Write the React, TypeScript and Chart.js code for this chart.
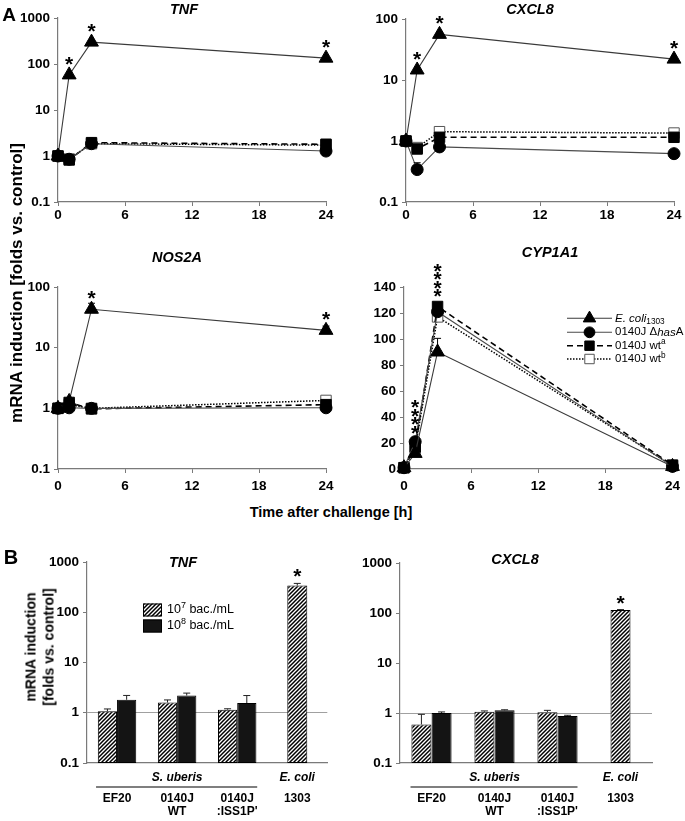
import React, { useEffect, useRef } from 'react';
import { Chart, registerables } from 'chart.js';

Chart.register(...registerables);

const FONT = '"Liberation Sans", Arial, Helvetica, sans-serif';

// ---------------- data ----------------
const hours = [0, 1, 3, 24];
const timeTicks = [0, 6, 12, 18, 24];
const logTicks4 = [0.1, 1, 10, 100, 1000];
const logTicks3 = [0.1, 1, 10, 100];
const cypTicks = [0, 20, 40, 60, 80, 100, 120, 140];

const seriesNames = ['E. coli 1303', '0140J ΔhasA', '0140J wt a', '0140J wt b'];

const tnfEcoli = [1, 58, 299, 134];
const tnfHasA = [1, 0.85, 1.85, 1.28];
const tnfWtA = [1, 0.82, 1.95, 1.8];
const tnfWtB = [1, 0.86, 1.85, 1.72];
const tnfStars = [0, 1, 1, 1];

const cxclEcoli = [1, 14.6, 56, 22];
const cxclHasA = [1, 0.34, 0.8, 0.62];
const cxclHasAErr = [0, 0.1, 0, 0];
const cxclWtA = [1, 0.74, 1.15, 1.15];
const cxclWtB = [1, 0.78, 1.42, 1.35];
const cxclStars = [0, 1, 1, 1];

const nosEcoli = [1, 1.3, 43, 19.3];
const nosEcoliErr = [0, 0, 11, 3.4];
const nosHasA = [1, 1.02, 1.0, 1.02];
const nosWtA = [1, 1.25, 0.98, 1.15];
const nosWtB = [1, 1.15, 1.0, 1.35];
const nosStars = [0, 0, 1, 1];

const cypEcoli = [1, 12, 90, 2];
const cypEcoliErr = [0, 0, 10.5, 0];
const cypHasA = [1, 21, 121, 2];
const cypWtA = [1, 17, 125, 3];
const cypWtB = [1, 16, 117, 2.5];
const cypStars = [0, 4, 4, 0];

const strainLabels = [['EF20'], ['0140J', 'WT'], ['0140J', ":ISS1P'"], ['1303']];
const speciesGroups = [
  { name: 'S. uberis', first: 0, last: 2 },
  { name: 'E. coli', first: 3, last: 3 },
];
const tnfDose7 = [1.07, 1.6, 1.15, 340];
const tnfDose7Err = [0.12, 0.2, 0.05, 35];
const tnfDose8 = [1.81, 2.2, 1.56, null];
const tnfDose8Err = [0.4, 0.26, 0.64, 0];
const cxclDose7 = [0.59, 1.06, 1.04, 115];
const cxclDose7Err = [0.35, 0.04, 0.09, 2];
const cxclDose8 = [1.0, 1.13, 0.87, null];
const cxclDose8Err = [0.05, 0.03, 0.03, 0];
const barStars = [0, 0, 0, 1];

const legendLabels = [
  [{ t: 'E. coli', i: true }, { t: '1303', sub: true }],
  [{ t: '0140J Δ' }, { t: 'has', i: true }, { t: 'A' }],
  [{ t: '0140J wt' }, { t: 'a', sup: true }],
  [{ t: '0140J wt' }, { t: 'b', sup: true }],
];
const doseLabels = [
  [{ t: '10' }, { t: '7', sup: true }, { t: ' bac./mL' }],
  [{ t: '10' }, { t: '8', sup: true }, { t: ' bac./mL' }],
];

// ---------------- styles ----------------
const lineStyles = [
  { pointStyle: 'triangle', radius: 8, fill: '#000', stroke: '#000', line: '#3a3a3a', width: 1.1, dash: [] as number[] },
  { pointStyle: 'circle', radius: 6, fill: '#000', stroke: '#000', line: '#4a4a4a', width: 1.1, dash: [] as number[] },
  { pointStyle: 'rect', radius: 7.4, fill: '#000', stroke: '#000', line: '#000', width: 1.6, dash: [6, 4] },
  { pointStyle: 'rect', radius: 7.4, fill: '#fff', stroke: '#555', line: '#000', width: 1.5, dash: [1.5, 1.5] },
];

const AXIS = '#7a7a7a';

function drawRich(ctx: any, x: number, y: number, segs: any[], size: number, bold = false) {
  let cx = x;
  ctx.textAlign = 'left';
  ctx.textBaseline = 'middle';
  for (const s of segs) {
    const fs = s.sub || s.sup ? size * 0.72 : size;
    ctx.font = `${s.i ? 'italic ' : ''}${bold ? 'bold ' : ''}${fs}px ${FONT}`;
    const dy = s.sub ? size * 0.3 : s.sup ? -size * 0.32 : 0;
    ctx.fillText(s.t, cx, y + dy);
    cx += ctx.measureText(s.t).width;
  }
}

function drawMarker(ctx: any, style: string, x: number, y: number, r: number, fill: string, stroke: string) {
  ctx.save();
  ctx.setLineDash([]);
  ctx.fillStyle = fill;
  ctx.strokeStyle = stroke;
  ctx.lineWidth = 1;
  ctx.beginPath();
  if (style === 'triangle') {
    ctx.moveTo(x, y - r);
    ctx.lineTo(x + r * 0.866, y + r / 2);
    ctx.lineTo(x - r * 0.866, y + r / 2);
    ctx.closePath();
  } else if (style === 'circle') {
    ctx.arc(x, y, r, 0, Math.PI * 2);
  } else {
    const s = r * Math.SQRT1_2;
    ctx.rect(x - s, y - s, 2 * s, 2 * s);
  }
  ctx.fill();
  ctx.stroke();
  ctx.restore();
}

function drawStar(ctx: any, x: number, cy: number) {
  ctx.save();
  ctx.font = `bold 21px ${FONT}`;
  ctx.textAlign = 'center';
  ctx.textBaseline = 'alphabetic';
  ctx.fillStyle = '#000';
  ctx.fillText('*', x, cy + 12);
  ctx.restore();
}

function makeHatch(ctx: any) {
  const c = document.createElement('canvas');
  c.width = 4;
  c.height = 4;
  const g = c.getContext('2d')!;
  g.fillStyle = '#fff';
  g.fillRect(0, 0, 4, 4);
  g.strokeStyle = '#000';
  g.lineWidth = 1.5;
  g.beginPath();
  g.moveTo(0, 4); g.lineTo(4, 0);
  g.moveTo(-2, 2); g.lineTo(2, -2);
  g.moveTo(2, 6); g.lineTo(6, 2);
  g.stroke();
  return ctx.createPattern(c, 'repeat');
}

function valueOf(raw: any) {
  if (raw === null || raw === undefined) return null;
  return typeof raw === 'number' ? raw : raw.y;
}

function drawErrors(chart: any, color: string, half: number) {
  const ctx = chart.ctx;
  const ys = chart.scales.y;
  chart.data.datasets.forEach((ds: any, di: number) => {
    const errs = ds.errors;
    if (!errs) return;
    const meta = chart.getDatasetMeta(di);
    meta.data.forEach((el: any, i: number) => {
      const e = errs[i];
      const v = valueOf(ds.data[i]);
      if (!e || v === null) return;
      const yTop = ys.getPixelForValue(v + e);
      ctx.save();
      ctx.setLineDash([]);
      ctx.strokeStyle = color;
      ctx.lineWidth = 1;
      ctx.beginPath();
      ctx.moveTo(el.x, el.y);
      ctx.lineTo(el.x, yTop);
      ctx.moveTo(el.x - half, yTop);
      ctx.lineTo(el.x + half, yTop);
      ctx.stroke();
      ctx.restore();
    });
  });
}

function axisCommon(tickSize: number, pad: number, tickLen: number) {
  return {
    ticks: { font: { family: FONT, size: tickSize, weight: 'bold' }, color: '#000', padding: pad, maxRotation: 0, autoSkip: false },
    grid: { drawOnChartArea: false, drawTicks: tickLen > 0, tickLength: tickLen, color: AXIS, tickColor: AXIS },
    border: { display: true, color: AXIS, width: 1.2 },
  };
}

// ---------------- line panels ----------------
function lineChart(o: any) {
  const { area, width, height } = o;
  const datasets = o.series.map((vals: number[], k: number) => {
    const s = lineStyles[k];
    return {
      label: seriesNames[k],
      data: hours.map((h, i) => ({ x: h, y: vals[i] })),
      errors: o.errors[k],
      borderColor: s.line,
      borderWidth: s.width,
      borderDash: s.dash,
      pointStyle: s.pointStyle,
      pointRadius: s.radius,
      pointBackgroundColor: s.fill,
      pointBorderColor: s.stroke,
      pointBorderWidth: 1,
      tension: 0,
      fill: false,
      clip: false,
    };
  });
  const xc = axisCommon(13.5, o.labelPad, 4);
  const yc = axisCommon(13.5, 4, 4);
  const yTicks = o.yTicks;
  return {
    type: 'line',
    data: { datasets },
    options: {
      animation: false,
      responsive: false,
      devicePixelRatio: 1,
      layout: { padding: { left: 0, top: area.t, right: width - area.r, bottom: 0 }, autoPadding: false },
      plugins: { legend: { display: false }, tooltip: { enabled: false }, title: { display: false } },
      scales: {
        x: {
          type: 'linear', min: 0, max: 24, ...xc,
          afterBuildTicks: (s: any) => { s.ticks = timeTicks.map((v) => ({ value: v })); },
          afterFit: (s: any) => { s.height = height - area.b; },
        },
        y: {
          type: o.yType, min: o.yMin, max: o.yMax, ...yc,
          ticks: { ...yc.ticks, callback: (v: any) => String(v) },
          afterBuildTicks: (s: any) => { s.ticks = yTicks.map((v: number) => ({ value: v })); },
          afterFit: (s: any) => { s.width = area.l; },
        },
      },
    },
    plugins: [
      {
        id: 'lineDecor',
        afterDatasetsDraw(chart: any) {
          const ctx = chart.ctx;
          drawErrors(chart, '#000', 3.5);
          const xs = chart.scales.x;
          const ys = chart.scales.y;
          // significance stars
          o.stars.forEach((n: number, i: number) => {
            if (!n) return;
            const x = xs.getPixelForValue(hours[i]);
            let top = Infinity;
            chart.data.datasets.forEach((ds: any, di: number) => {
              const el = chart.getDatasetMeta(di).data[i];
              top = Math.min(top, el.y - lineStyles[di].radius);
              const e = ds.errors ? ds.errors[i] : 0;
              if (e) top = Math.min(top, ys.getPixelForValue(ds.data[i].y + e) - 2);
            });
            const base = top - 8;
            for (let k = 0; k < n; k++) drawStar(ctx, x, base - k * 8.5);
          });
          // title
          ctx.save();
          ctx.font = `italic bold 14.5px ${FONT}`;
          ctx.textAlign = 'center';
          ctx.textBaseline = 'middle';
          ctx.fillStyle = '#000';
          ctx.fillText(o.title, o.titlePos[0], o.titlePos[1]);
          ctx.restore();
          // legend
          if (o.legend) {
            const L = o.legend;
            legendLabels.forEach((segs, k) => {
              const s = lineStyles[k];
              const y = L.rows[k];
              ctx.save();
              ctx.strokeStyle = s.line;
              ctx.lineWidth = s.width;
              ctx.setLineDash(s.dash);
              ctx.beginPath();
              ctx.moveTo(L.x1, y);
              ctx.lineTo(L.x2, y);
              ctx.stroke();
              ctx.restore();
              drawMarker(ctx, s.pointStyle, (L.x1 + L.x2) / 2, y, s.radius * 0.9, s.fill, s.stroke);
              ctx.save();
              ctx.fillStyle = '#000';
              drawRich(ctx, L.tx, y, segs, 11.5);
              ctx.restore();
            });
          }
        },
      },
    ],
  };
}

// ---------------- bar panels ----------------
function barChart(canvas: HTMLCanvasElement, o: any) {
  const { area, width, height } = o;
  const hatch = makeHatch(canvas.getContext('2d'));
  const xc = axisCommon(12, 29, 0);
  const yc = axisCommon(13.5, 4, 4);
  return {
    type: 'bar',
    data: {
      labels: strainLabels,
      datasets: [
        { label: '10^7 bac./mL', data: o.d7, errors: o.e7, backgroundColor: hatch, borderColor: '#000', borderWidth: 1, borderSkipped: false },
        { label: '10^8 bac./mL', data: o.d8, errors: o.e8, backgroundColor: '#141414', borderColor: '#000', borderWidth: 1, borderSkipped: false },
      ],
    },
    options: {
      animation: false,
      responsive: false,
      devicePixelRatio: 1,
      datasets: { bar: { skipNull: true, maxBarThickness: 20, categoryPercentage: 0.64, barPercentage: 1 } },
      layout: { padding: { left: 0, top: area.t, right: width - area.r, bottom: 0 }, autoPadding: false },
      plugins: { legend: { display: false }, tooltip: { enabled: false }, title: { display: false } },
      scales: {
        x: {
          type: 'category', offset: true, ...xc,
          ticks: { ...xc.ticks, font: { family: FONT, size: 12, weight: 'bold', lineHeight: 1.1 } },
          grid: { display: true, drawOnChartArea: false, drawTicks: false, color: AXIS },
          afterFit: (s: any) => { s.height = height - area.b; },
        },
        y: {
          type: 'logarithmic', min: 0.1, max: 1000, ...yc,
          ticks: { ...yc.ticks, callback: (v: any) => String(v) },
          grid: {
            drawOnChartArea: true, drawTicks: true, tickLength: 4, tickColor: AXIS, lineWidth: 1,
            color: (c: any) => (c.tick && c.tick.value === 1 ? '#a0a0a0' : 'rgba(0,0,0,0)'),
          },
          afterBuildTicks: (s: any) => { s.ticks = logTicks4.map((v) => ({ value: v })); },
          afterFit: (s: any) => { s.width = area.l; },
        },
      },
    },
    plugins: [
      {
        id: 'barDecor',
        afterDraw(chart: any) {
          const ctx = chart.ctx;
          const xs = chart.scales.x;
          const ys = chart.scales.y;
          drawErrors(chart, '#222', 3.5);
          // stars over 10^7 bars
          const ds0 = chart.data.datasets[0];
          const meta0 = chart.getDatasetMeta(0);
          barStars.forEach((n, i) => {
            if (!n) return;
            const el = meta0.data[i];
            const cap = ys.getPixelForValue(ds0.data[i] + (ds0.errors[i] || 0));
            for (let k = 0; k < n; k++) drawStar(ctx, el.x, cap - 12 - k * 8.5);
          });
          // species row
          ctx.save();
          ctx.fillStyle = '#000';
          ctx.font = `italic bold 12px ${FONT}`;
          ctx.textAlign = 'center';
          ctx.textBaseline = 'middle';
          speciesGroups.forEach((g) => {
            const a = xs.getPixelForValue(g.first);
            const b = xs.getPixelForValue(g.last);
            ctx.fillText(g.name, (a + b) / 2, area.b + 15);
            if (g.last > g.first) {
              ctx.strokeStyle = '#555';
              ctx.lineWidth = 1.5;
              ctx.beginPath();
              ctx.moveTo(a - 21, area.b + 24);
              ctx.lineTo(b + 20, area.b + 24);
              ctx.stroke();
            }
          });
          // title
          ctx.font = `italic bold 14.5px ${FONT}`;
          ctx.fillText(o.title, o.titlePos[0], o.titlePos[1]);
          ctx.restore();
          // legend
          if (o.legend) {
            const L = o.legend;
            const fills = [hatch, '#141414'];
            doseLabels.forEach((segs, k) => {
              const y = L.rows[k];
              ctx.save();
              ctx.fillStyle = fills[k];
              ctx.fillRect(L.x, y - 6.5, 19, 13);
              ctx.strokeStyle = '#000';
              ctx.lineWidth = 1;
              ctx.strokeRect(L.x + 0.5, y - 6, 18, 12);
              ctx.fillStyle = '#000';
              drawRich(ctx, L.tx, y, segs, 12.5);
              ctx.restore();
            });
          }
        },
      },
    ],
  };
}

// ---------------- components ----------------
function Panel({ left, top, width, height, build }: any) {
  const ref = useRef<HTMLCanvasElement | null>(null);
  useEffect(() => {
    const cv = ref.current!;
    const chart = new Chart(cv, build(cv));
    return () => chart.destroy();
  }, []);
  return <canvas ref={ref} width={width} height={height} style={{ position: 'absolute', left, top, width, height }} />;
}

function Txt({ x, y, size, rotate, children, lh }: any) {
  return (
    <div
      style={{
        position: 'absolute', left: x, top: y,
        transform: `translate(-50%, -50%)${rotate ? ' rotate(-90deg)' : ''}`,
        fontFamily: FONT, fontSize: size, fontWeight: 'bold', lineHeight: lh || 1.1,
        whiteSpace: 'nowrap', textAlign: 'center', color: '#000',
      }}
    >
      {children}
    </div>
  );
}

export default function App() {
  return (
    <div style={{ position: 'absolute', left: 0, top: 0, width: 685, height: 821, background: '#fff', overflow: 'hidden' }}>
      <Panel left={0} top={0} width={340} height={230} build={() => lineChart({
        width: 340, height: 230, area: { l: 58, t: 18, r: 326, b: 202 }, title: 'TNF', titlePos: [184, 10],
        yType: 'logarithmic', yMin: 0.1, yMax: 1000, yTicks: logTicks4, labelPad: 1,
        series: [tnfEcoli, tnfHasA, tnfWtA, tnfWtB], errors: [null, null, null, null], stars: tnfStars,
      })} />
      <Panel left={340} top={0} width={345} height={230} build={() => lineChart({
        width: 345, height: 230, area: { l: 66, t: 19, r: 334, b: 202 }, title: 'CXCL8', titlePos: [190, 10],
        yType: 'logarithmic', yMin: 0.1, yMax: 100, yTicks: logTicks3, labelPad: 1,
        series: [cxclEcoli, cxclHasA, cxclWtA, cxclWtB], errors: [null, cxclHasAErr, null, null], stars: cxclStars,
      })} />
      <Panel left={0} top={230} width={340} height={270} build={() => lineChart({
        width: 340, height: 270, area: { l: 58, t: 57, r: 326, b: 239 }, title: 'NOS2A', titlePos: [177, 28],
        yType: 'logarithmic', yMin: 0.1, yMax: 100, yTicks: logTicks3, labelPad: 5,
        series: [nosEcoli, nosHasA, nosWtA, nosWtB], errors: [nosEcoliErr, null, null, null], stars: nosStars,
      })} />
      <Panel left={340} top={230} width={345} height={270} build={() => lineChart({
        width: 345, height: 270, area: { l: 64, t: 57, r: 337, b: 239 }, title: 'CYP1A1', titlePos: [210, 23],
        yType: 'linear', yMin: 0, yMax: 140, yTicks: cypTicks, labelPad: 5,
        series: [cypEcoli, cypHasA, cypWtA, cypWtB], errors: [cypEcoliErr, null, null, null], stars: cypStars,
        legend: { x1: 227, x2: 272, tx: 275, rows: [88.3, 102.3, 115.7, 129] },
      })} />
      <Panel left={0} top={540} width={340} height={281} build={(cv: HTMLCanvasElement) => barChart(cv, {
        width: 340, height: 281, area: { l: 87, t: 22, r: 337, b: 223 }, title: 'TNF', titlePos: [183, 23],
        d7: tnfDose7, e7: tnfDose7Err, d8: tnfDose8, e8: tnfDose8Err,
        legend: { x: 143, tx: 167, rows: [70, 86] },
      })} />
      <Panel left={340} top={540} width={345} height={281} build={(cv: HTMLCanvasElement) => barChart(cv, {
        width: 345, height: 281, area: { l: 60, t: 23, r: 312, b: 223 }, title: 'CXCL8', titlePos: [175, 20],
        d7: cxclDose7, e7: cxclDose7Err, d8: cxclDose8, e8: cxclDose8Err,
      })} />

      <Txt x={9} y={15} size={19}>A</Txt>
      <Txt x={11} y={557} size={20}>B</Txt>
      <Txt x={17} y={283} size={17} rotate>mRNA induction [folds vs. control]</Txt>
      <Txt x={331} y={513} size={14.5}>Time after challenge [h]</Txt>
      <Txt x={40} y={647} size={14} rotate lh={1.25}>
        mRNA induction<br />[folds vs. control]
      </Txt>
    </div>
  );
}
